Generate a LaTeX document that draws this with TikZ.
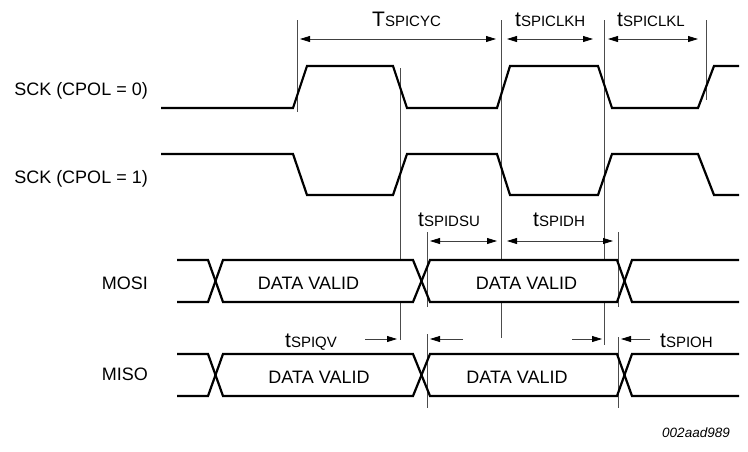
\documentclass[tikz,border=0pt]{standalone}
\usepackage{fontspec}
\setmainfont{Liberation Sans}
\usetikzlibrary{arrows.meta}
\newcommand\tmlab[2]{{\fontsize{21}{21}\selectfont #1}{\fontsize{15}{15}\selectfont #2}}
\begin{document}
\begin{tikzpicture}[x=1pt,y=-1pt,
  sig/.style={line width=2.2pt, line join=miter, black},
  refl/.style={line width=0.8pt, black!70},
  onearr/.style={line width=0.8pt, black!75, -{Triangle[length=10pt,width=6pt,color=black]}},
  twoarr/.style={line width=0.8pt, black!75, {Triangle[length=10pt,width=6pt,color=black]}-{Triangle[length=10pt,width=6pt,color=black]}},
  lbl/.style={inner sep=0pt, font=\fontsize{18}{18}\selectfont},
  tlbl/.style={inner sep=0pt, anchor=base west}]
\useasboundingbox (0,0) rectangle (748,451);

% signal names
\node[lbl, anchor=base east] (l0) at (148,95) {SCK (CPOL = 0)};
\node[lbl, anchor=base east] (l1) at (148,183) {SCK (CPOL = 1)};
\node[lbl, anchor=base east] (lmosi) at (148,289) {MOSI};
\node[lbl, anchor=base east] (lmiso) at (148,380) {MISO};

% reference lines
\draw[refl] (297,20) -- (297,112);
\draw[refl] (706,20) -- (706,100);
\draw[refl] (400,68) -- (400,260) (400,303) -- (400,340);
\draw[refl] (501,20) -- (501,260) (501,303) -- (501,338);
\draw[refl] (604,20) -- (604,260) (604,303) -- (604,345);
\draw[refl] (427,232) -- (427,307) (427,334) -- (427,408);
\draw[refl] (618,232) -- (618,307) (618,337) -- (618,408);

% clocks
\draw[sig] (161,108) -- (293,108) -- (307,66) -- (393,66) -- (407,108) -- (497,108) -- (510,66) -- (598,66) -- (612,108) -- (698,108) -- (714,66) -- (739,66);
\draw[sig] (161,154) -- (293,154) -- (307,195) -- (393,195) -- (407,154) -- (497,154) -- (510,195) -- (598,195) -- (612,154) -- (698,154) -- (714,195) -- (739,195);

% MOSI
\draw[sig] (177,260) -- (208,260) -- (223,302) -- (413,302) -- (430,260) -- (617,260) -- (632,302) -- (739,302);
\draw[sig] (177,302) -- (208,302) -- (223,260) -- (413,260) -- (430,302) -- (617,302) -- (632,260) -- (739,260);
% MISO
\draw[sig] (177,354) -- (208,354) -- (223,396) -- (413,396) -- (430,354) -- (617,354) -- (632,396) -- (739,396);
\draw[sig] (177,396) -- (208,396) -- (223,354) -- (413,354) -- (430,396) -- (617,396) -- (632,354) -- (739,354);

\node[lbl, anchor=base] (dv1) at (308.5,289) {DATA VALID};
\node[lbl, anchor=base] (dv2) at (526.5,289) {DATA VALID};
\node[lbl, anchor=base] (dv3) at (319,383) {DATA VALID};
\node[lbl, anchor=base] (dv4) at (517,383) {DATA VALID};

% timing arrows
\draw[twoarr] (300,39) -- (496,39);
\draw[twoarr] (507,39) -- (593,39);
\draw[twoarr] (608,39) -- (698,39);
\draw[twoarr] (430,241) -- (497,241);
\draw[twoarr] (507,241) -- (613,241);
\draw[onearr] (365,339) -- (397,339);
\draw[onearr] (463,339) -- (430,339);
\draw[onearr] (572,339) -- (602,339);
\draw[onearr] (650,339) -- (621,339);

\node[tlbl] (tcyc) at (372,26) {\tmlab{T}{SPICYC}};
\node[tlbl] (tclkh) at (515,26) {\tmlab{t}{SPICLKH}};
\node[tlbl] (tclkl) at (617,26) {\tmlab{t}{SPICLKL}};
\node[tlbl] (tdsu) at (418,226) {\tmlab{t}{SPIDSU}};
\node[tlbl] (tdh) at (533,226) {\tmlab{t}{SPIDH}};
\node[tlbl] (tqv) at (285,347) {\tmlab{t}{SPIQV}};
\node[tlbl] (toh) at (660,347) {\tmlab{t}{SPIOH}};

\node[inner sep=0pt, anchor=base east, font=\fontsize{13.5}{13.5}\selectfont\itshape] (fn) at (730,437) {002aad989};
\end{tikzpicture}
\end{document}
